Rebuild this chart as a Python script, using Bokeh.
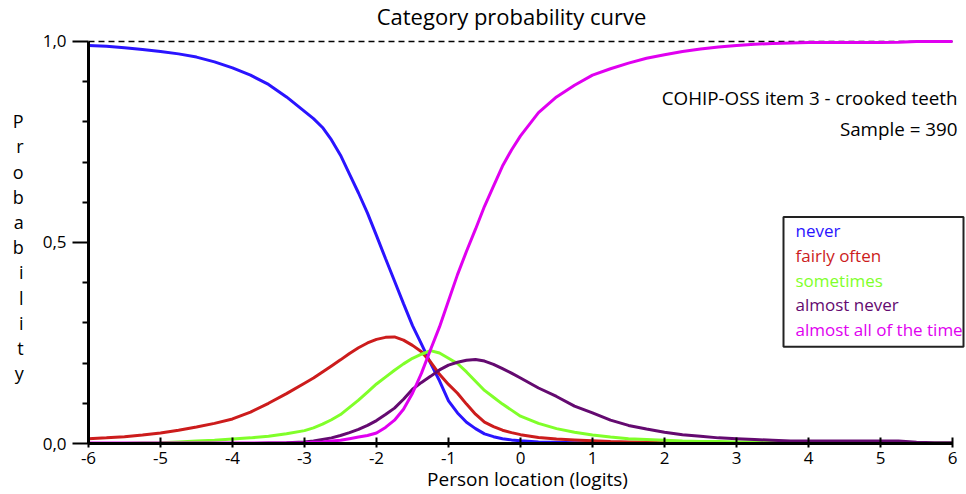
from bokeh.plotting import figure
from bokeh.models import Range1d, FixedTicker, Label, BoxAnnotation
from bokeh.embed import file_html
from bokeh.resources import INLINE

# ---------------- data ----------------
logits = [-6.0, -5.75, -5.5, -5.25, -5.0, -4.75, -4.5, -4.25, -4.0, -3.75,
          -3.5, -3.25,
          -3.0, -2.875, -2.75, -2.625,
          -2.5, -2.375, -2.25, -2.125, -2.0, -1.875, -1.75, -1.625, -1.5, -1.375,
          -1.25, -1.125, -1.0, -0.875, -0.75, -0.625, -0.5, -0.375, -0.25, -0.125, 0.0,
          0.25, 0.5, 0.75, 1.0, 1.25, 1.5, 1.75, 2.0, 2.25, 2.5, 2.75, 3.0,
          3.25, 3.5, 3.75, 4.0, 4.25, 4.5, 4.75, 5.0, 5.25, 5.5, 5.75, 6.0]

never = [0.990, 0.988, 0.984, 0.980, 0.975, 0.969, 0.961, 0.949, 0.934, 0.916,
         0.893, 0.862,
         0.826, 0.808, 0.786, 0.755,
         0.717, 0.670, 0.623, 0.573, 0.517, 0.460, 0.404, 0.348, 0.293, 0.247,
         0.200, 0.156, 0.106, 0.076, 0.053, 0.037, 0.024, 0.017, 0.012, 0.009, 0.007,
         0.004, 0.003, 0.002, 0.001, 0.0, 0.0, 0.0, 0.0, 0.0, 0.0, 0.0, 0.0,
         0.0, 0.0, 0.0, 0.0, 0.0, 0.0, 0.0, 0.0, 0.0, 0.0, 0.0, 0.0]

fairly_often = [0.012, 0.014, 0.017, 0.021, 0.026, 0.033, 0.041, 0.050, 0.061, 0.078,
                0.100, 0.124,
                0.150, 0.163, 0.178, 0.193,
                0.208, 0.224, 0.238, 0.250, 0.259, 0.264, 0.265, 0.257, 0.244, 0.228,
                0.203, 0.172, 0.147, 0.125, 0.098, 0.073, 0.053, 0.042, 0.033, 0.027, 0.022,
                0.015, 0.011, 0.009, 0.007, 0.005, 0.004, 0.003, 0.002, 0.001, 0.0, 0.0, 0.0,
                0.0, 0.0, 0.0, 0.0, 0.0, 0.0, 0.0, 0.0, 0.0, 0.0, 0.0, 0.0]

sometimes = [0.0, 0.0, 0.0, 0.001, 0.002, 0.004, 0.006, 0.008, 0.011, 0.014,
             0.018, 0.024,
             0.032, 0.039, 0.048, 0.059,
             0.072, 0.090, 0.108, 0.128, 0.148, 0.165, 0.182, 0.198, 0.212, 0.222,
             0.231, 0.225, 0.212, 0.199, 0.178, 0.155, 0.132, 0.115, 0.098, 0.083, 0.068,
             0.050, 0.037, 0.028, 0.021, 0.016, 0.012, 0.010, 0.008, 0.006, 0.005, 0.005, 0.004,
             0.004, 0.003, 0.003, 0.002, 0.002, 0.002, 0.002, 0.002, 0.002, 0.001, 0.001, 0.001]

almost_never = [0.0, 0.0, 0.0, 0.0, 0.0, 0.0, 0.0, 0.0, 0.0, 0.0,
                0.001, 0.002,
                0.004, 0.006, 0.010, 0.014,
                0.020, 0.027, 0.035, 0.045, 0.057, 0.072, 0.088, 0.110, 0.135, 0.152,
                0.167, 0.183, 0.195, 0.202, 0.207, 0.209, 0.205, 0.197, 0.186, 0.175, 0.163,
                0.138, 0.117, 0.093, 0.076, 0.058, 0.045, 0.036, 0.028, 0.022, 0.018, 0.014, 0.012,
                0.010, 0.008, 0.006, 0.006, 0.006, 0.006, 0.006, 0.006, 0.006, 0.003, 0.002, 0.002]

almost_all = [0.001, 0.001, 0.001, 0.001, 0.001, 0.001, 0.001, 0.001, 0.001, 0.001,
              0.001, 0.001,
              0.002, 0.003, 0.004, 0.006,
              0.008, 0.012, 0.016, 0.020, 0.026, 0.040, 0.058, 0.085, 0.125, 0.175,
              0.233, 0.290, 0.355, 0.420, 0.478, 0.533, 0.590, 0.640, 0.690, 0.730, 0.765,
              0.823, 0.862, 0.891, 0.916, 0.932, 0.946, 0.958, 0.967, 0.975, 0.981, 0.986, 0.990,
              0.993, 0.995, 0.996, 0.997, 0.997, 0.997, 0.997, 0.997, 0.998, 1.0, 1.0, 1.0]

category_names = ["never", "fairly often", "sometimes", "almost never", "almost all of the time"]
category_colors = ["#2a14ff", "#cc1c1c", "#80ff2a", "#640a70", "#e000f0"]
series = [never, fairly_often, sometimes, almost_never, almost_all]

x_ticks = [-6, -5, -4, -3, -2, -1, 0, 1, 2, 3, 4, 5, 6]
x_tick_labels = ["-6", "-5", "-4", "-3", "-2", "-1", "0", "1", "2", "3", "4", "5", "6"]
y_ticks = [0.0, 0.5, 1.0]
y_tick_labels = ["0,0", "0,5", "1,0"]
y_minor_ticks = [0.1, 0.2, 0.3, 0.4, 0.6, 0.7, 0.8, 0.9]
ref_level = [1.0, 1.0]

FONT = "Open Sans"

# ---------------- figure ----------------
# frame: x -6..6 spans 88..952 px (72 px / logit), y 0..1 spans 444..41 px (403 px / unit);
# the frame is extended to the right and top edges so texts there are not clipped,
# while the axes are bounded to the data range.
W, H = 966, 494
p = figure(width=W, height=H, output_backend="svg", toolbar_location=None,
           title=None, x_range=Range1d(-6, 6 + 14 / 72.0), y_range=Range1d(0, 444 / 403.0),
           min_border_left=88, min_border_right=0, min_border_top=0, min_border_bottom=50)
p.outline_line_color = None
p.xgrid.visible = False
p.ygrid.visible = False
p.background_fill_color = "white"
p.border_fill_color = "white"

# x axis
xa = p.xaxis[0]
xa.bounds = (x_ticks[0], x_ticks[-1])
xa.ticker = FixedTicker(ticks=x_ticks, minor_ticks=[])
xa.major_label_overrides = dict(zip(x_ticks, x_tick_labels))
xa.axis_line_width = 3
xa.axis_line_color = "black"
xa.major_tick_in = 6
xa.major_tick_out = 4
xa.major_tick_line_width = 2
xa.major_tick_line_color = "black"
xa.minor_tick_line_color = None
xa.major_label_text_font = FONT
xa.major_label_text_font_size = "17px"
xa.major_label_text_color = "black"
xa.major_label_standoff = 4
xa.axis_label = "Person location (logits)"
xa.axis_label_text_font = FONT
xa.axis_label_text_font_size = "19px"
xa.axis_label_text_font_style = "normal"
xa.axis_label_text_color = "black"
xa.axis_label_standoff = -1

# y axis
ya = p.yaxis[0]
ya.bounds = (y_ticks[0], y_ticks[-1])
ya.ticker = FixedTicker(ticks=y_ticks, minor_ticks=y_minor_ticks)
ya.major_label_overrides = dict(zip(y_ticks, y_tick_labels))
ya.axis_line_width = 3
ya.axis_line_color = "black"
ya.major_tick_in = 0
ya.major_tick_out = 16
ya.major_tick_line_width = 2
ya.major_tick_line_color = "black"
ya.minor_tick_in = 0
ya.minor_tick_out = 6
ya.minor_tick_line_width = 2
ya.minor_tick_line_color = "black"
ya.major_label_text_font = FONT
ya.major_label_text_font_size = "17px"
ya.major_label_text_color = "black"
ya.major_label_standoff = 6
ya.axis_label = "\n".join([" ", " "] + list("Probability"))
ya.axis_label_orientation = "horizontal"
ya.axis_label_text_font = FONT
ya.axis_label_text_font_size = "18px"
ya.axis_label_text_font_style = "normal"
ya.axis_label_text_color = "black"
ya.axis_label_text_align = "center"
ya.axis_label_text_line_height = 1.05
ya.axis_label_standoff = 16

# dashed line at probability 1
p.line([x_ticks[0], x_ticks[-1]], ref_level, line_color="black", line_width=1.5, line_dash="6 4")

# curves
for ys, col in zip(series, category_colors):
    p.line(logits, ys, line_color=col, line_width=3)

# helpers to convert page pixels (text baselines) to data
def dx(px):
    return -6 + (px - 88) / 72.0

def dy(py):
    return (444 - py) / 403.0

BASE_SHIFT = 9  # empirical correction of the rendered baseline

# title
p.add_layout(Label(x=dx(511), y=dy(25 - BASE_SHIFT), text="Category probability curve",
                   text_font=FONT, text_font_size="22px", text_align="center",
                   text_baseline="alphabetic", text_color="black"))

# info text
p.add_layout(Label(x=dx(957), y=dy(107 - BASE_SHIFT), text="COHIP-OSS item 3 - crooked teeth",
                   text_font=FONT, text_font_size="18.8px", text_align="right",
                   text_baseline="alphabetic", text_color="black"))
p.add_layout(Label(x=dx(957), y=dy(138 - BASE_SHIFT), text="Sample = 390",
                   text_font=FONT, text_font_size="18.8px", text_align="right",
                   text_baseline="alphabetic", text_color="black"))

# legend box
p.add_layout(BoxAnnotation(left=dx(783), right=dx(963), top=dy(217), bottom=dy(347),
                           fill_color="white", fill_alpha=1.0,
                           line_color="#222222", line_alpha=1.0, line_width=2,
                           level="annotation"))
for i, (name, col) in enumerate(zip(category_names, category_colors)):
    p.add_layout(Label(x=dx(795), y=dy(237 + 24.6 * i - 6), text=name,
                       text_font=FONT, text_font_size="17px", text_align="left",
                       text_baseline="alphabetic", text_color=col, level="overlay"))

open("out.html", "w").write(file_html(p, INLINE))
